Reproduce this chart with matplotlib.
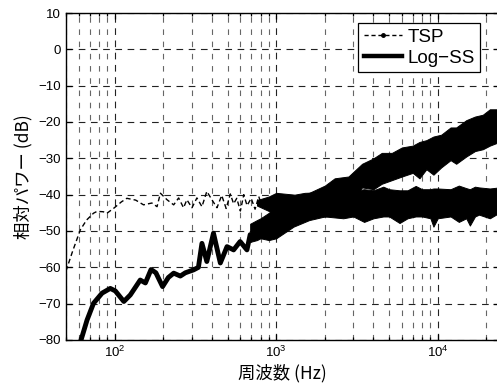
import numpy as np
import matplotlib
import matplotlib.pyplot as plt
from matplotlib.lines import Line2D
from matplotlib.ticker import LogLocator, NullFormatter

matplotlib.use('Agg')

plt.rcParams['font.family'] = ['Liberation Sans', 'Noto Sans CJK JP']
plt.rcParams['mathtext.fontset'] = 'custom'
plt.rcParams['mathtext.rm'] = 'Liberation Sans'

# TSP: thin dashed line below ~1 kHz
tsp_freq = [50, 55, 61.3, 67, 74, 77.8, 85, 89.7, 99, 110, 119, 135, 151, 170, 183,
            192, 211, 232, 249, 267, 280, 301, 323, 347, 372, 400, 430, 460, 490,
            520, 545, 570, 600, 630, 660, 700, 740, 780, 820, 860, 900, 950]
tsp_db = [-61, -55.5, -49.7, -47, -45.1, -44.6, -44.7, -45.1, -43.7, -42, -41, -41.5,
          -42.8, -42.3, -43.3, -39.6, -41.4, -42.8, -40.9, -43.6, -41.4, -43.6, -40.9,
          -43.3, -39.1, -41.4, -43.6, -40.2, -43.8, -39.8, -42.5, -41, -44.5, -40,
          -43, -41, -44, -40.5, -43.5, -41, -44, -40.5]

# TSP: dense noisy band above ~1 kHz (upper / lower envelope, spikes included)
tsp_band_freq = [760, 900, 1000, 1300, 1500, 2000, 2600, 3000, 3500, 4000, 4600, 5000,
                 5800, 6500, 7300, 8000, 9000, 9400, 10000, 12000, 13500, 15000, 15800,
                 17000, 18000, 21000, 24000]
tsp_band_hi = [-41.5, -40.5, -39.5, -40, -39.5, -39.3, -39.8, -39, -38.5, -38.8, -37.8,
               -38.5, -38.8, -38.8, -37.6, -38.5, -38.5, -38.3, -38.3, -38.5, -37.5,
               -38.2, -38.5, -37.8, -38, -38.3, -38]
tsp_band_lo = [-43, -44.5, -45.5, -45, -45.5, -46, -46.5, -46, -47.5, -46.5, -46, -46,
               -47.8, -46.5, -46, -46, -46.5, -48.8, -46.5, -46, -47.5, -46.5, -48.5,
               -46, -45.5, -46.5, -45]

# Log-SS: thick line below ~700 Hz
logss_freq = [61, 67.5, 74, 83.6, 94, 101, 114, 125, 144, 155, 168, 180, 198, 215, 232,
              255, 274, 308, 330, 347, 372, 409, 451, 496, 545, 598, 659, 690]
logss_db = [-81, -74.5, -69.9, -67.1, -65.8, -66.5, -69.4, -67.6, -63.5, -64.3, -60.6,
            -61.5, -65.3, -62.8, -61.6, -62.4, -61.5, -60.7, -60, -53.4, -58.4, -50.6,
            -58.8, -54.3, -55.2, -52.9, -55.2, -51]

# Log-SS: dense noisy band above ~700 Hz (upper / lower envelope, spikes included)
logss_band_freq = [690, 760, 800, 900, 1000, 1280, 1600, 2000, 2300, 2800, 3400, 4000,
                   4500, 5200, 6000, 7000, 7700, 8500, 9400, 10500, 12000, 13000, 15000,
                   17000, 19000, 21000, 24000]
logss_band_hi = [-48, -47, -46.5, -45, -43.5, -41, -39.5, -37.5, -35.5, -35, -31.5, -30,
                 -28.5, -28.5, -27, -26.5, -25.5, -25, -24, -23.5, -21.5, -21.5, -19.5,
                 -18.5, -18, -16.5, -16.5]
logss_band_lo = [-53, -52.5, -52, -52.5, -52, -48.8, -47, -46, -45.5, -43, -38, -38.5,
                 -37, -36, -35, -34, -35.5, -33, -34.5, -32.5, -30.5, -31.5, -29.5,
                 -28, -27.5, -26.5, -25.5]

fig = plt.figure(figsize=(4.97, 3.90), dpi=100)
ax = fig.add_axes([66 / 497, 1 - 340 / 390, 433.2 / 497, 327 / 390])

ax.plot(tsp_freq, tsp_db, color='black', lw=1.0, dashes=(3.5, 2.2))
ax.fill_between(tsp_band_freq, tsp_band_lo, tsp_band_hi, color='black', lw=0.7)

ax.plot(logss_freq, logss_db, color='black', lw=3.5, solid_joinstyle='round',
        solid_capstyle='round')
ax.fill_between(logss_band_freq, logss_band_lo, logss_band_hi, color='black', lw=0.7)

ax.set_xscale('log')
ax.set_xlim(50, 24000)
ax.set_ylim(-80, 10)
ax.set_yticks(np.arange(-80, 11, 10))
ax.xaxis.set_major_locator(LogLocator(base=10))
ax.xaxis.set_minor_locator(LogLocator(base=10, subs=np.arange(2, 10)))
ax.xaxis.set_minor_formatter(NullFormatter())

ax.grid(which='major', axis='both', color='#222222', lw=0.8, dashes=(6, 5))
ax.grid(which='minor', axis='x', color='#666666', lw=0.8, dashes=(5, 6))
ax.set_axisbelow(True)

ax.tick_params(which='both', direction='in', top=True, right=True, labelsize=9.5, width=0.9)
ax.tick_params(which='major', length=4.5)
ax.tick_params(which='minor', length=2.5)
for s in ax.spines.values():
    s.set_linewidth(1.0)

ax.set_xlabel('周波数 (Hz)', fontsize=12.5, family=['Noto Sans CJK JP', 'DejaVu Sans'], labelpad=3)
ax.set_ylabel('相対パワー (dB)', fontsize=12.5, family=['Noto Sans CJK JP', 'DejaVu Sans'], labelpad=4)

h_tsp = Line2D([], [], color='black', lw=1.0, dashes=(3, 2), marker='.', markersize=5)
h_log = Line2D([], [], color='black', lw=3.2)
leg = ax.legend([h_tsp, h_log], ['TSP', 'Log\u2212SS'], loc='upper right',
                bbox_to_anchor=(0.956, 0.969), borderaxespad=0, fancybox=False,
                edgecolor='black', framealpha=1, fontsize=13.5, handlelength=2.0,
                handletextpad=0.3, labelspacing=0.2, borderpad=0.3, numpoints=1)
leg.get_frame().set_linewidth(0.9)

fig.savefig('out.png', dpi=100)
